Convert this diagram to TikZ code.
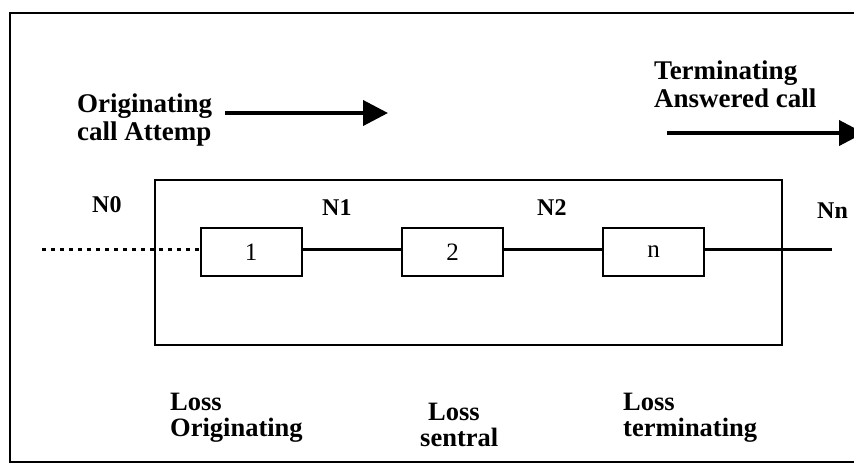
\documentclass[tikz,border=0pt]{standalone}
\usepackage{fontspec}
\setmainfont{Liberation Serif}
\usetikzlibrary{arrows.meta}
\tikzset{
  lbl/.style={font=\fontsize{26.5}{25.5}\selectfont\bfseries, align=left, inner sep=0pt, anchor=north west},
  biglbl/.style={font=\fontsize{27}{28}\selectfont\bfseries, align=left, inner sep=0pt, anchor=north west},
  nlbl/.style={font=\fontsize{24}{26}\selectfont\bfseries, inner sep=0pt, anchor=base west},
  blk/.style={draw, line width=2pt, minimum width=101pt, minimum height=48pt, inner sep=0pt, font=\fontsize{25}{26}\selectfont},
  conn/.style={line width=3pt},
  dotconn/.style={line width=3pt, dash pattern=on 4pt off 5pt},
  bigarrow/.style={line width=4pt, -{Triangle[length=25pt,width=25pt]}}
}
\begin{document}
\begin{tikzpicture}[x=1pt,y=-1pt]
\useasboundingbox (0,0) rectangle (854,464);
\clip (0,0) rectangle (854,464);
% outer frame
\draw[line width=2.5pt] (10,13) rectangle (880,462);
% inner box
\draw[line width=1.5pt] (155,180) rectangle (782,345);
% blocks
\node[blk] (b1) at (251,252) {1};
\node[blk] (b2) at (452.5,252) {2};
\node[blk] (bn) at (653.5,252) {n};
\coordinate (s0) at (42,249);
\coordinate (se) at (832,249);
\draw[dotconn] (s0) -- (b1.west |- s0);
\draw[conn] (b1.east |- s0) -- (b2.west |- s0);
\draw[conn] (b2.east |- s0) -- (bn.west |- s0);
\draw[conn] (bn.east |- s0) -- (se);
% node labels
\node[nlbl] (n0) at (92,212) {N0};
\node[nlbl] (n1) at (322,215) {N1};
\node[nlbl] (n2) at (537,215) {N2};
\node[nlbl] (nn) at (817,218) {Nn};
% top labels and arrows
\node[biglbl] (orig) at (77,94) {Originating\\call Attemp};
\coordinate (oa1) at (225,113);
\coordinate (oa2) at (388,113);
\draw[bigarrow] (oa1) -- (oa2);
\node[biglbl] (term) at (654,61) {Terminating\\Answered call};
\coordinate (ta1) at (667,133);
\coordinate (ta2) at (864,133);
\draw[bigarrow] (ta1) -- (ta2);
% loss labels
\node[lbl] (lo) at (170,393) {Loss\\Originating};
\node[lbl] (ls) at (420,403) {\hspace*{8pt}Loss\\sentral};
\node[lbl] (lt) at (623,393) {Loss\\terminating};
\end{tikzpicture}
\end{document}
